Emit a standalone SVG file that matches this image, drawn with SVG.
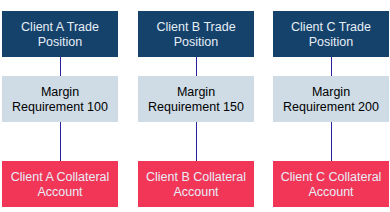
<svg xmlns="http://www.w3.org/2000/svg" width="390" height="212" viewBox="0 0 390 212">
<style>
.t{fill:#15426a}
.m{fill:#cfdce6}
.b{fill:#f23658}
text{font-family:"Liberation Sans",Arial,sans-serif;font-size:12.5px;text-anchor:middle}
.lt{fill:#e6eef7}
.dk{fill:#000}
.c{stroke:#2a229c;stroke-width:1;fill:none}
</style>
<rect width="390" height="212" fill="#fff"/>
<g id="connectors">
<line class="c" x1="60.5" y1="57" x2="60.5" y2="76"/>
<line class="c" x1="60.5" y1="122" x2="60.5" y2="161"/>
<line class="c" x1="196.5" y1="57" x2="196.5" y2="76"/>
<line class="c" x1="196.5" y1="122" x2="196.5" y2="161"/>
<line class="c" x1="331.5" y1="57" x2="331.5" y2="76"/>
<line class="c" x1="331.5" y1="122" x2="331.5" y2="161"/>
</g>
<g id="tradeA"><rect class="t" x="2" y="11" width="116" height="46"/><text class="lt" x="60" y="31">Client A Trade</text><text class="lt" x="60" y="46">Position</text></g>
<g id="tradeB"><rect class="t" x="138" y="11" width="116" height="46"/><text class="lt" x="196" y="31">Client B Trade</text><text class="lt" x="196" y="46">Position</text></g>
<g id="tradeC"><rect class="t" x="273" y="11" width="116" height="46"/><text class="lt" x="331" y="31">Client C Trade</text><text class="lt" x="331" y="46">Position</text></g>
<g id="marginA"><rect class="m" x="2" y="76" width="116" height="46"/><text class="dk" x="60" y="96">Margin</text><text class="dk" x="60" y="111">Requirement 100</text></g>
<g id="marginB"><rect class="m" x="138" y="76" width="116" height="46"/><text class="dk" x="196" y="96">Margin</text><text class="dk" x="196" y="111">Requirement 150</text></g>
<g id="marginC"><rect class="m" x="273" y="76" width="116" height="46"/><text class="dk" x="331" y="96">Margin</text><text class="dk" x="331" y="111">Requirement 200</text></g>
<g id="collA"><rect class="b" x="2" y="161" width="116" height="46"/><text class="lt" x="60" y="181">Client A Collateral</text><text class="lt" x="60" y="196">Account</text></g>
<g id="collB"><rect class="b" x="138" y="161" width="116" height="46"/><text class="lt" x="196" y="181">Client B Collateral</text><text class="lt" x="196" y="196">Account</text></g>
<g id="collC"><rect class="b" x="273" y="161" width="116" height="46"/><text class="lt" x="331" y="181">Client C Collateral</text><text class="lt" x="331" y="196">Account</text></g>
</svg>
